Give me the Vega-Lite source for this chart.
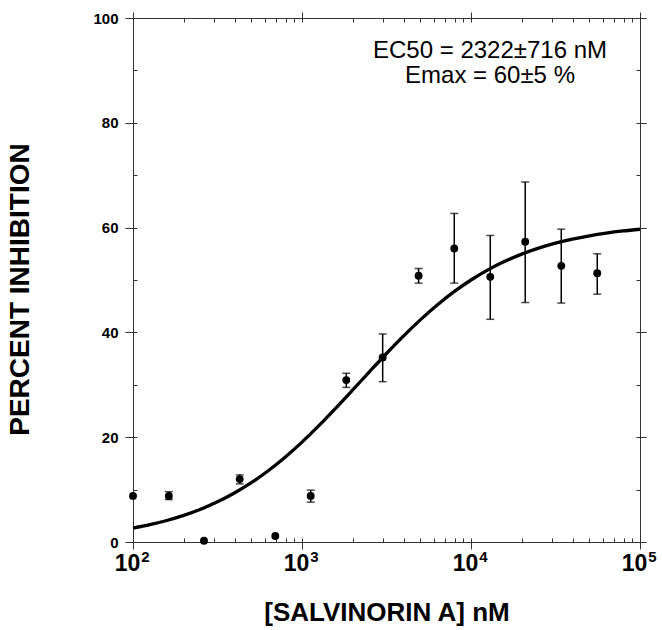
{
  "$schema": "https://vega.github.io/schema/vega-lite/v6.json",
  "width": 507,
  "height": 524,
  "autosize": {"type": "none"},
  "padding": {"left": 133, "top": 18, "right": 22, "bottom": 88},
  "background": "white",
  "config": {
    "view": {"stroke": null},
    "axis": {
      "grid": false,
      "domainColor": "#333333",
      "tickColor": "#333333",
      "tickWidth": 1,
      "domainWidth": 1,
      "labelFont": "Liberation Sans",
      "titleFont": "Liberation Sans",
      "labelFontWeight": "bold",
      "titleFontWeight": "bold",
      "labelColor": "black",
      "titleColor": "black"
    }
  },
  "datasets": {
    "pts": [
      {"c": 100, "y": 8.8},
      {"c": 163, "y": 8.8, "lo": 8.1, "hi": 9.6},
      {"c": 263, "y": 0.25},
      {"c": 428, "y": 12.0, "lo": 11.1, "hi": 12.8},
      {"c": 695, "y": 1.15},
      {"c": 1126, "y": 8.8, "lo": 7.6, "hi": 9.9},
      {"c": 1828, "y": 30.9, "lo": 29.5, "hi": 32.2},
      {"c": 3002, "y": 35.2, "lo": 30.6, "hi": 39.7},
      {"c": 4898, "y": 50.8, "lo": 49.4, "hi": 52.2},
      {"c": 7962, "y": 56.0, "lo": 49.4, "hi": 62.7},
      {"c": 13000, "y": 50.6, "lo": 42.5, "hi": 58.5},
      {"c": 20930, "y": 57.3, "lo": 45.7, "hi": 68.7},
      {"c": 34200, "y": 52.7, "lo": 45.6, "hi": 59.7},
      {"c": 55850, "y": 51.3, "lo": 47.3, "hi": 55.0}
    ],
    "curve": [
      {"c": 100, "y": 2.652},
      {"c": 125.9, "y": 3.302},
      {"c": 158.5, "y": 4.099},
      {"c": 199.5, "y": 5.072},
      {"c": 251.2, "y": 6.251},
      {"c": 316.2, "y": 7.665},
      {"c": 398.1, "y": 9.347},
      {"c": 501.2, "y": 11.319},
      {"c": 631.0, "y": 13.595},
      {"c": 794.3, "y": 16.180},
      {"c": 1000, "y": 19.063},
      {"c": 1258.9, "y": 22.201},
      {"c": 1584.9, "y": 25.543},
      {"c": 1995.3, "y": 29.012},
      {"c": 2511.9, "y": 32.519},
      {"c": 3162.3, "y": 35.973},
      {"c": 3981.1, "y": 39.289},
      {"c": 5011.9, "y": 42.392},
      {"c": 6309.6, "y": 45.230},
      {"c": 7943.3, "y": 47.770},
      {"c": 10000, "y": 50.0},
      {"c": 12589, "y": 51.926},
      {"c": 15849, "y": 53.565},
      {"c": 19953, "y": 54.942},
      {"c": 25119, "y": 56.088},
      {"c": 31623, "y": 57.032},
      {"c": 39811, "y": 57.806},
      {"c": 50119, "y": 58.435},
      {"c": 63096, "y": 58.945},
      {"c": 79433, "y": 59.356},
      {"c": 100000, "y": 59.687}
    ],
    "notes": [
      {"c": 12956, "y": 92.4, "label": "EC50 = 2322±716 nM\nEmax = 60±5 %"}
    ]
  },
  "resolve": {"axis": {"x": "independent", "y": "independent"}},
  "layer": [
    {
      "data": {"name": "pts"},
      "mark": {"type": "rule", "color": "black", "strokeWidth": 1.5},
      "encoding": {
        "x": {"field": "c", "type": "quantitative",
          "scale": {"type": "log", "domain": [100, 100000], "nice": false},
          "axis": {"orient": "bottom", "values": [100, 1000, 10000, 100000],
            "labelExpr": "'10'", "labelOffset": -6,
            "tickSize": 7, "labelFontSize": 23, "labelPadding": 3, "labelFlush": false, "labelOverlap": false,
            "title": "[SALVINORIN A] nM", "titleFontSize": 26, "titlePadding": 24}},
        "y": {"field": "lo", "type": "quantitative",
          "scale": {"domain": [0, 100], "nice": false, "zero": false},
          "axis": {"orient": "left", "values": [0, 20, 40, 60, 80, 100],
            "tickSize": 8, "labelFontSize": 15, "labelPadding": 7,
            "title": "PERCENT INHIBITION", "titleFontSize": 28, "titlePadding": 58, "titleY": 271}},
        "y2": {"field": "hi"}
      }
    },
    {
      "data": {"name": "pts"},
      "mark": {"type": "tick", "orient": "horizontal", "color": "black", "size": 8, "thickness": 1.5},
      "encoding": {
        "x": {"field": "c", "type": "quantitative",
          "scale": {"type": "log", "domain": [100, 100000], "nice": false},
          "axis": {"orient": "bottom", "values": [200, 300, 400, 500, 600, 700, 800, 900, 2000, 3000, 4000, 5000, 6000, 7000, 8000, 9000, 20000, 30000, 40000, 50000, 60000, 70000, 80000, 90000],
            "tickSize": -4, "labels": false, "domain": false, "title": null}},
        "y": {"field": "lo", "type": "quantitative",
          "scale": {"domain": [0, 100], "nice": false, "zero": false},
          "axis": {"orient": "left", "values": [10, 30, 50, 70, 90],
            "tickSize": -4, "labels": false, "domain": false, "title": null}}
      }
    },
    {
      "data": {"name": "pts"},
      "mark": {"type": "tick", "orient": "horizontal", "color": "black", "size": 8, "thickness": 1.5},
      "encoding": {
        "x": {"field": "c", "type": "quantitative",
          "scale": {"type": "log", "domain": [100, 100000], "nice": false},
          "axis": {"orient": "bottom", "values": [100, 1000, 10000, 100000],
            "tickSize": -4, "domain": false, "title": null,
            "labelExpr": "datum.value == 100 ? '2' : datum.value == 1000 ? '3' : datum.value == 10000 ? '4' : '5'",
            "labelFontSize": 15, "labelOffset": 12, "labelPadding": 11, "labelFlush": false, "labelOverlap": false}},
        "y": {"field": "hi", "type": "quantitative",
          "scale": {"domain": [0, 100], "nice": false, "zero": false},
          "axis": {"orient": "left", "values": [0, 20, 40, 60, 80, 100],
            "tickSize": -4, "labels": false, "domain": false, "title": null}}
      }
    },
    {
      "data": {"name": "curve"},
      "mark": {"type": "line", "color": "black", "strokeWidth": 3.3, "interpolate": "monotone"},
      "encoding": {
        "x": {"field": "c", "type": "quantitative",
          "scale": {"type": "log", "domain": [100, 100000], "nice": false},
          "axis": {"orient": "top", "values": [100, 1000, 10000, 100000],
            "tickSize": 6, "labels": false, "title": null}},
        "y": {"field": "y", "type": "quantitative",
          "scale": {"domain": [0, 100], "nice": false, "zero": false},
          "axis": {"orient": "right", "values": [0, 20, 40, 60, 80, 100],
            "tickSize": 6, "labels": false, "title": null}}
      }
    },
    {
      "data": {"name": "pts"},
      "mark": {"type": "circle", "color": "black", "opacity": 1, "size": 62},
      "encoding": {
        "x": {"field": "c", "type": "quantitative",
          "scale": {"type": "log", "domain": [100, 100000], "nice": false},
          "axis": {"orient": "top", "values": [200, 300, 400, 500, 600, 700, 800, 900, 2000, 3000, 4000, 5000, 6000, 7000, 8000, 9000, 20000, 30000, 40000, 50000, 60000, 70000, 80000, 90000],
            "tickSize": -4, "labels": false, "domain": false, "title": null}},
        "y": {"field": "y", "type": "quantitative",
          "scale": {"domain": [0, 100], "nice": false, "zero": false},
          "axis": {"orient": "right", "values": [10, 30, 50, 70, 90],
            "tickSize": -4, "labels": false, "domain": false, "title": null}}
      }
    },
    {
      "data": {"name": "notes"},
      "mark": {"type": "text", "font": "Liberation Sans", "fontSize": 24, "align": "center", "baseline": "alphabetic", "color": "black", "lineBreak": "\n", "lineHeight": 25},
      "encoding": {
        "x": {"field": "c", "type": "quantitative",
          "scale": {"type": "log", "domain": [100, 100000], "nice": false},
          "axis": {"orient": "top", "values": [100, 1000, 10000, 100000],
            "tickSize": -4, "labels": false, "domain": false, "title": null}},
        "y": {"field": "y", "type": "quantitative",
          "scale": {"domain": [0, 100], "nice": false, "zero": false},
          "axis": {"orient": "right", "values": [0, 20, 40, 60, 80, 100],
            "tickSize": -4, "labels": false, "domain": false, "title": null}},
        "text": {"field": "label"}
      }
    }
  ]
}
